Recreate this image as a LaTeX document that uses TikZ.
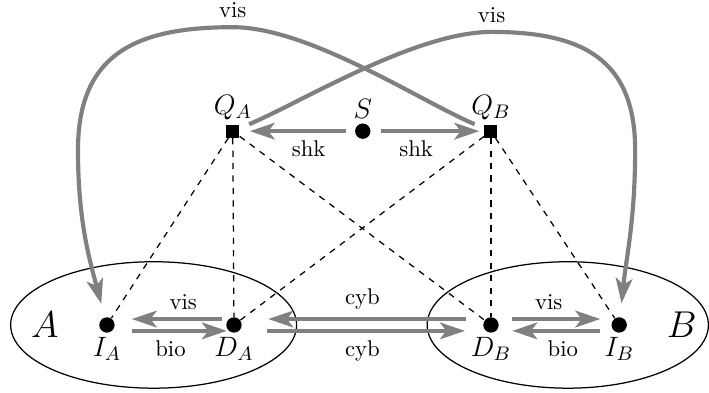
\RequirePackage{fix-cm}
\documentclass[tikz,border=0pt,11pt]{standalone}
\usepackage{amsmath}
\usepackage{tikz}
\usetikzlibrary{arrows.meta, shapes.geometric}

\begin{document}
\begin{tikzpicture}
    % Setup the styles
        \tikzset{agent style/.style={circle, fill=black, inner sep=0pt,
                                     minimum size=0.26cm},
                 device style/.style={rectangle, fill=black, inner sep=0pt,
                                      minimum size=0.22cm},
                 every label/.style={font=\fontsize{13.5}{16}\selectfont,
                                     inner sep=2pt},
                 party style/.style={ellipse, draw, semithick, inner sep=0pt},
                 channel/.style={draw=gray, line width=2pt,
                                 -{Stealth[length=12pt, width=8pt, inset=3pt]}},
                 corr/.style={dashed, semithick}}
        \useasboundingbox (0,0) rectangle (12.0,-6.635);
        % Draw the parties
        \node[party style, minimum width=4.84cm, minimum height=2.14cm]
            at (2.60, -5.50) (partyA) {};
        \node[party style, minimum width=4.76cm, minimum height=2.14cm]
            at (9.61, -5.50) (partyB) {};
        \node[font=\fontsize{18}{20}\selectfont] at (0.76, -5.50) (nameA) {$A$};
        \node[font=\fontsize{18}{20}\selectfont] at (11.54, -5.50) (nameB) {$B$};
        % Draw the agents
        \node[agent style, label=below:$I_A$] at (1.81, -5.50)  (IA) {};
        \node[agent style, label=below:$D_A$] at (3.96, -5.50)  (DA) {};
        \node[agent style, label=below:$D_B$] at (8.31, -5.50)  (DB) {};
        \node[agent style, label=below:$I_B$] at (10.48, -5.50) (IB) {};
        \node[agent style, label=above:$S$]   at (6.14, -2.22)  (S)  {};
        \node[device style, label=above:$Q_A$] at (3.94, -2.22) (QA) {};
        \node[device style, label=above:$Q_B$] at (8.31, -2.22) (QB) {};
        % Correlations
        \draw[corr]
            (QA) edge (IA)
            (QA) edge (DA)
            (QA) edge (DB)
            (QB) edge (DA)
            (QB) edge (DB)
            (QB) edge (IB);
        % Channels between the agents
        \path[every edge/.append style={channel}]
            ([yshift=0.1cm]DA.center) edge[shorten <=0.2cm, shorten >=0.42cm]
                node[above, pos=0.4] {vis} ([yshift=0.1cm]IA.center)
            ([yshift=-0.1cm]IA.center) edge[shorten <=0.42cm, shorten >=0.12cm]
                node[below, pos=0.5] {bio} ([yshift=-0.1cm]DA.center)
            ([yshift=0.1cm]DB.center) edge[shorten <=0.42cm, shorten >=0.58cm]
                node[above] {cyb} ([yshift=0.1cm]DA.center)
            ([yshift=-0.1cm]DA.center) edge[shorten <=0.56cm, shorten >=0.44cm]
                node[below] {cyb} ([yshift=-0.1cm]DB.center)
            ([yshift=0.1cm]DB.center) edge[shorten <=0.36cm, shorten >=0.32cm]
                node[above, pos=0.45] {vis} ([yshift=0.1cm]IB.center)
            ([yshift=-0.1cm]IB.center) edge[shorten <=0.32cm, shorten >=0.36cm]
                node[below, pos=0.44] {bio} ([yshift=-0.1cm]DB.center)
            (S) edge[shorten <=0.15cm, shorten >=0.17cm]
                node[below, pos=0.4] {shk} (QA)
            (S) edge[shorten <=0.17cm, shorten >=0.08cm]
                node[below, pos=0.4] {shk} (QB);
        % Long channels from the sources
        \draw[channel, shorten <=0.3cm, shorten >=0.37cm]
            (QB.center) to[out=157, in=0, looseness=0.7] (3.94, -0.46)
                node[above] {vis}
            to[out=180, in=90, looseness=1.25] (1.32, -2.54)
            to[out=-90, in=105] (IA.center);
        \draw[channel, shorten <=0.3cm, shorten >=0.37cm]
            (QA.center) to[out=23, in=180, looseness=0.7] (8.32, -0.54)
                node[above] {vis}
            to[out=0, in=90, looseness=1.25] (10.75, -2.54)
            to[out=-90, in=84] (IB.center);
\end{tikzpicture}
\end{document}
